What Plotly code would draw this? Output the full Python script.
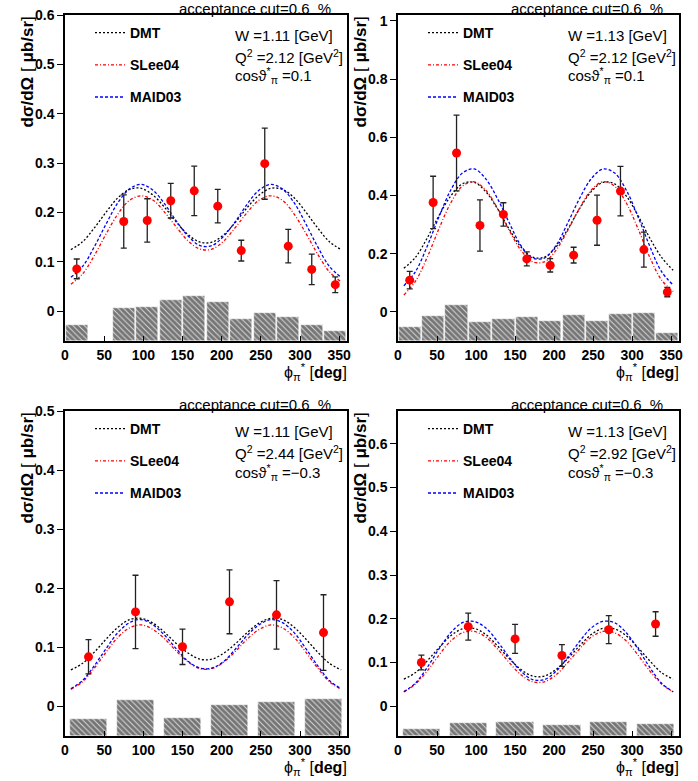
import plotly.graph_objects as go

W_PX, H_PX = 698, 781

# ---------------- data ----------------
PHI_CURVE = [7.5, 22.5, 37.5, 52.5, 67.5, 82.5, 97.5, 112.5, 127.5, 142.5, 157.5, 172.5,
             187.5, 202.5, 217.5, 232.5, 247.5, 262.5, 277.5, 292.5, 307.5, 322.5, 337.5, 352.5]
PHI_BINS12 = [15, 45, 75, 105, 135, 165, 195, 225, 255, 285, 315, 345]
PHI_BINS6 = [30, 90, 150, 210, 270, 330]

# Panel 1: W=1.11, Q2=2.12, cos=0.1
P1_X = [15, 75, 105, 135, 165, 195, 225, 255, 285, 315, 345]
P1_Y = [0.086, 0.182, 0.184, 0.224, 0.244, 0.213, 0.123, 0.299, 0.132, 0.085, 0.054]
P1_ERR = [0.020, 0.054, 0.044, 0.035, 0.050, 0.034, 0.021, 0.072, 0.034, 0.031, 0.016]
P1_ACC = [-0.028, -0.060, 0.007, 0.008, 0.023, 0.031, 0.019, -0.015, -0.004, -0.011, -0.028, -0.040]
P1_DMT = [0.125, 0.141, 0.169, 0.201, 0.230, 0.247, 0.249, 0.235, 0.210, 0.180, 0.155, 0.140,
          0.140, 0.155, 0.180, 0.210, 0.235, 0.249, 0.247, 0.230, 0.201, 0.169, 0.141, 0.125]
P1_SLEE = [0.055, 0.076, 0.113, 0.157, 0.197, 0.225, 0.234, 0.225, 0.200, 0.170, 0.142, 0.126,
           0.126, 0.142, 0.170, 0.200, 0.225, 0.234, 0.225, 0.197, 0.158, 0.116, 0.080, 0.060]
P1_MAID = [0.069, 0.091, 0.131, 0.177, 0.220, 0.248, 0.257, 0.245, 0.217, 0.182, 0.152, 0.133,
           0.133, 0.152, 0.182, 0.217, 0.245, 0.257, 0.248, 0.220, 0.177, 0.131, 0.091, 0.069]

# Panel 2: W=1.13, Q2=2.12, cos=0.1
P2_X = PHI_BINS12
P2_Y = [0.109, 0.376, 0.546, 0.297, 0.335, 0.182, 0.160, 0.195, 0.315, 0.415, 0.214, 0.068]
P2_ERR = [0.030, 0.090, 0.130, 0.088, 0.040, 0.024, 0.023, 0.027, 0.086, 0.085, 0.060, 0.016]
P2_ACC = [-0.051, -0.015, 0.023, -0.035, -0.025, -0.018, -0.030, -0.011, -0.031, -0.008, -0.004, -0.072]
P2_DMT = [0.150, 0.188, 0.254, 0.331, 0.398, 0.440, 0.445, 0.413, 0.354, 0.284, 0.223, 0.188,
          0.188, 0.223, 0.284, 0.354, 0.413, 0.445, 0.440, 0.398, 0.331, 0.254, 0.188, 0.143]
P2_SLEE = [0.058, 0.106, 0.188, 0.286, 0.374, 0.432, 0.447, 0.418, 0.356, 0.280, 0.212, 0.172,
           0.172, 0.212, 0.280, 0.356, 0.418, 0.447, 0.432, 0.374, 0.286, 0.188, 0.110, 0.070]
P2_MAID = [0.090, 0.139, 0.226, 0.327, 0.418, 0.477, 0.491, 0.457, 0.389, 0.306, 0.228, 0.185,
           0.185, 0.228, 0.306, 0.389, 0.457, 0.491, 0.477, 0.418, 0.327, 0.226, 0.139, 0.092]

# Panel 3: W=1.11, Q2=2.44, cos=-0.3
P3_X = PHI_BINS6
P3_Y = [0.084, 0.160, 0.101, 0.177, 0.155, 0.125]
P3_ERR = [0.029, 0.062, 0.030, 0.054, 0.058, 0.064]
P3_ACC = [-0.022, 0.011, -0.020, 0.003, 0.007, 0.013]
P3_DMT = [0.062, 0.073, 0.092, 0.114, 0.134, 0.147, 0.149, 0.141, 0.125, 0.106, 0.090, 0.080,
          0.080, 0.090, 0.106, 0.125, 0.141, 0.149, 0.147, 0.134, 0.114, 0.092, 0.073, 0.062]
P3_SLEE = [0.029, 0.042, 0.065, 0.092, 0.117, 0.133, 0.138, 0.130, 0.114, 0.093, 0.075, 0.064,
           0.064, 0.075, 0.093, 0.114, 0.130, 0.138, 0.133, 0.117, 0.092, 0.065, 0.042, 0.029]
P3_MAID = [0.030, 0.044, 0.069, 0.098, 0.125, 0.142, 0.147, 0.138, 0.120, 0.097, 0.076, 0.065,
           0.065, 0.076, 0.097, 0.120, 0.138, 0.147, 0.142, 0.125, 0.098, 0.069, 0.044, 0.030]

# Panel 4: W=1.13, Q2=2.92, cos=-0.3
P4_X = PHI_BINS6
P4_Y = [0.100, 0.182, 0.154, 0.116, 0.175, 0.188]
P4_ERR = [0.017, 0.031, 0.033, 0.025, 0.032, 0.028]
P4_ACC = [-0.053, -0.038, -0.037, -0.043, -0.037, -0.041]
P4_DMT = [0.062, 0.077, 0.104, 0.134, 0.161, 0.177, 0.178, 0.164, 0.138, 0.109, 0.084, 0.069,
          0.069, 0.084, 0.109, 0.138, 0.164, 0.178, 0.177, 0.161, 0.134, 0.104, 0.077, 0.062]
P4_SLEE = [0.033, 0.051, 0.081, 0.117, 0.149, 0.168, 0.171, 0.158, 0.131, 0.100, 0.072, 0.056,
           0.056, 0.072, 0.100, 0.131, 0.158, 0.171, 0.168, 0.149, 0.117, 0.081, 0.051, 0.033]
P4_MAID = [0.033, 0.053, 0.089, 0.131, 0.168, 0.191, 0.194, 0.179, 0.148, 0.112, 0.080, 0.061,
           0.061, 0.080, 0.112, 0.148, 0.179, 0.194, 0.191, 0.168, 0.131, 0.089, 0.053, 0.033]

KIN_W = ["1.11", "1.13", "1.11", "1.13"]
KIN_Q2 = ["2.12", "2.12", "2.44", "2.92"]
KIN_COS = ["0.1", "0.1", "\u22120.3", "\u22120.3"]
Y_RANGES = [[-0.06, 0.6], [-0.1, 1.02], [-0.05, 0.5], [-0.068, 0.675]]
Y_DTICK = [0.1, 0.2, 0.1, 0.1]

PANELS = [
    dict(x=P1_X, y=P1_Y, err=P1_ERR, accx=PHI_BINS12, acc=P1_ACC, bw=28.5,
         dmt=P1_DMT, slee=P1_SLEE, maid=P1_MAID),
    dict(x=P2_X, y=P2_Y, err=P2_ERR, accx=PHI_BINS12, acc=P2_ACC, bw=28.5,
         dmt=P2_DMT, slee=P2_SLEE, maid=P2_MAID),
    dict(x=P3_X, y=P3_Y, err=P3_ERR, accx=PHI_BINS6, acc=P3_ACC, bw=48,
         dmt=P3_DMT, slee=P3_SLEE, maid=P3_MAID),
    dict(x=P4_X, y=P4_Y, err=P4_ERR, accx=PHI_BINS6, acc=P4_ACC, bw=48,
         dmt=P4_DMT, slee=P4_SLEE, maid=P4_MAID),
]

# ---------------- layout geometry (pixels) ----------------
BOXES = [(65, 347, 15, 341), (398, 679, 15, 341), (65, 347, 411, 736), (398, 679, 411, 736)]

def px(x):
    return x / W_PX

def py(y):
    return 1 - y / H_PX

FONT = "Liberation Sans, Arial, Helvetica, sans-serif"

fig = go.Figure()
layout = dict(
    width=W_PX, height=H_PX, margin=dict(l=0, r=0, t=0, b=0, autoexpand=False),
    paper_bgcolor="white", plot_bgcolor="white", showlegend=True,
    font=dict(family=FONT, color="black"),
    bargap=0,
)
annotations = []

for i, (p, box) in enumerate(zip(PANELS, BOXES)):
    n = i + 1
    xa = "x" if n == 1 else f"x{n}"
    ya = "y" if n == 1 else f"y{n}"
    leg = "legend" if n == 1 else f"legend{n}"
    x0, x1, y0, y1 = box
    ymin, ymax = Y_RANGES[i]

    # acceptance histogram (hatched bars from bottom of frame)
    fig.add_trace(go.Bar(
        x=p["accx"], y=[t - ymin for t in p["acc"]], base=ymin, width=p["bw"],
        xaxis=xa, yaxis=ya, showlegend=False, hoverinfo="skip",
        marker=dict(color="white", line=dict(color="white", width=0.5),
                    pattern=dict(shape="\\", fgcolor="#111111", bgcolor="#d8d8d8",
                                 size=4, solidity=0.75)),
    ))
    # model curves
    for name, key, col, dash in [("DMT", "dmt", "black", "2px,2px"),
                                 ("SLee04", "slee", "red", "3px,2px,1px,2px"),
                                 ("MAID03", "maid", "blue", "3px,2px")]:
        fig.add_trace(go.Scatter(
            x=PHI_CURVE, y=p[key], mode="lines", name=name, xaxis=xa, yaxis=ya,
            line=dict(color=col, width=1.3, dash=dash, shape="spline"),
            legend=leg, legendgroup=f"{n}{name}",
        ))
    # data points
    fig.add_trace(go.Scatter(
        x=p["x"], y=p["y"], mode="markers", xaxis=xa, yaxis=ya, showlegend=False,
        marker=dict(color="#ff0000", size=9),
        error_y=dict(type="data", array=p["err"], color="#222222", thickness=1.3, width=3),
    ))

    layout["xaxis" if n == 1 else f"xaxis{n}"] = dict(
        domain=[px(x0), px(x1)], range=[0, 360], dtick=50, tick0=0, automargin=False,
        anchor=ya, showgrid=False, zeroline=False, showline=True, mirror=True,
        linecolor="black", linewidth=1.5, ticks="inside", ticklen=5, tickwidth=1,
        tickcolor="black", tickfont=dict(family=FONT, size=14, weight="bold"),
    )
    layout["yaxis" if n == 1 else f"yaxis{n}"] = dict(
        domain=[py(y1), py(y0)], range=[ymin, ymax], dtick=Y_DTICK[i], tick0=0,
        automargin=False,
        anchor=xa, showgrid=False, zeroline=False, showline=True, mirror=True,
        linecolor="black", linewidth=1.5, ticks="outside", ticklen=6, tickwidth=1,
        tickcolor="black", tickfont=dict(family=FONT, size=14, weight="bold"),
    )
    layout[leg] = dict(
        x=px(x0 + 25), y=py(y0 + 2), xanchor="left", yanchor="top",
        bgcolor="rgba(0,0,0,0)", borderwidth=0, traceorder="grouped",
        tracegroupgap=11, font=dict(family=FONT, size=14, weight="bold"),
    )

    # acceptance cut title
    annotations.append(dict(
        x=px(x1 - 14), y=py(y0 - 7), xref="paper", yref="paper", xanchor="right",
        yanchor="middle", showarrow=False, text="acceptance cut=0.6  %",
        font=dict(family=FONT, size=15)))
    # kinematics text
    kx = px(x0 + 168)
    for dy, txt in [(20, f"W ={KIN_W[i]} [GeV]"),
                    (41, f"Q<sup>2</sup> ={KIN_Q2[i]} [GeV<sup>2</sup>]"),
                    (61, f"cos\u03d1<sup>*</sup><sub>\u03c0</sub> ={KIN_COS[i]}")]:
        annotations.append(dict(
            x=kx, y=py(y0 + dy), xref="paper", yref="paper", xanchor="left",
            yanchor="middle", showarrow=False, text=txt,
            font=dict(family=FONT, size=15)))
    # y title
    annotations.append(dict(
        x=px(x0 - 38), y=py(y0), xref="paper", yref="paper", xanchor="center",
        yanchor="top", showarrow=False, textangle=-90,
        text="<b>d\u03c3/d\u03a9</b> [ <b>\u03bcb/sr</b>]",
        font=dict(family=FONT, size=17)))
    # x title
    annotations.append(dict(
        x=px(x1 + 2), y=py(y1 + 31), xref="paper", yref="paper", xanchor="right",
        yanchor="middle", showarrow=False,
        text="\u03d5<sub>\u03c0</sub><sup>*</sup> [<b>deg</b>]",
        font=dict(family=FONT, size=16)))

layout["annotations"] = annotations
fig.update_layout(**layout)
fig.write_html("out.html")
